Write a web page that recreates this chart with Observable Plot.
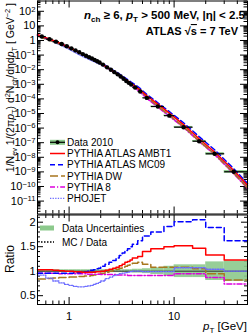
<!DOCTYPE html>
<html><head><meta charset="utf-8">
<script src="https://cdn.jsdelivr.net/npm/d3@7"></script>
<script src="https://cdn.jsdelivr.net/npm/@observablehq/plot@0.6"></script>
<style>
html,body{margin:0;padding:0;background:#fff;}
#chart svg{display:block;}
</style></head><body><div id="chart"></div>
<script>
// ---------------- data ----------------
const binEdges = [0.5,0.6,0.7,0.8,0.9,1.0,1.1,1.2,1.3,1.4,1.5,1.6,1.7,1.8,1.9,2.0,2.2,2.4,2.6,2.8,3.0,3.2,3.4,3.6,3.8,4.0,4.5,5.0,6.0,8.0,10,15,20,30,50];
const dataPt = [0.55,0.65,0.75,0.85,0.95,1.05,1.15,1.25,1.35,1.45,1.55,1.65,1.75,1.85,1.95,2.1,2.3,2.5,2.7,2.9,3.1,3.3,3.5,3.7,3.9,4.25,4.75,5.5,7,9,12.3,17.3,24.3,37];
const dataValues = [1.86,1.23,0.83,0.575,0.41,0.29,0.21,0.155,0.117,0.091,0.072,0.058,0.047,0.038,0.031,0.0224,0.0145,0.0098,0.0068,0.0048,0.0034,0.0024,0.0017,0.00126,0.00095,6.0e-4,3.2e-4,1.17e-4,3.0e-5,7.1e-6,1.15e-6,1.26e-7,1.74e-8,1.02e-9];
const dataRelUnc = [0.03,0.03,0.03,0.03,0.03,0.03,0.03,0.03,0.03,0.03,0.03,0.03,0.03,0.03,0.03,0.03,0.03,0.03,0.03,0.03,0.03,0.03,0.03,0.03,0.03,0.04,0.04,0.05,0.07,0.10,0.13,0.13,0.19,0.21];
const dataEdgeLow = 2.5;     // spectrum level at pT = 0.5 GeV
const dataEdgeHigh = 1.0e-10; // spectrum level at pT = 50 GeV

const ratioAMBT1 = [1.03,1.03,1.02,1.01,1.00, 1.00,0.99,0.99,0.98,0.98, 0.98,0.98,0.98,0.99,0.99, 1.00,1.02,1.04,1.06,1.08, 1.11,1.14,1.18,1.20,1.23, 1.27,1.30,1.40,1.46,1.50, 1.52,1.47,1.33,1.23];
const ratioMC09  = [0.96,0.96,0.96,0.96,0.96, 0.96,0.97,0.97,0.98,0.99, 1.00,1.02,1.03,1.05,1.06, 1.10,1.14,1.18,1.22,1.27, 1.32,1.37,1.42,1.46,1.50, 1.55,1.62,1.72,1.80,1.91, 2.01,2.05,1.89,1.62];
const ratioDW    = [0.84,0.85,0.86,0.87,0.87, 0.88,0.88,0.89,0.89,0.90, 0.90,0.91,0.92,0.93,0.94, 0.96,0.98,1.00,1.02,1.04, 1.06,1.08,1.10,1.12,1.14, 1.16,1.18,1.14,1.08,1.08, 1.08,1.05,0.95,0.82];
const ratioP8    = [0.96,0.96,0.96,0.95,0.95, 0.95,0.95,0.95,0.95,0.95, 0.94,0.94,0.94,0.94,0.94, 0.93,0.93,0.93,0.93,0.92, 0.92,0.92,0.92,0.91,0.91, 0.91,0.91,0.91,0.91,0.91, 0.95,0.95,0.87,0.74];
const ratioPHOJET= [0.92,0.86,0.80,0.76,0.73, 0.71,0.69,0.68,0.68,0.69, 0.70,0.71,0.73,0.75,0.77, 0.80,0.85,0.88,0.91,0.93, 0.95,0.96,0.97,0.98,0.99, 1.00,1.00,0.99,0.99,0.99, 1.07,1.07,1.04,1.00];

const seriesNames = ["PYTHIA ATLAS AMBT1","PYTHIA ATLAS MC09","PYTHIA DW","PYTHIA 8","PHOJET"];
const xTickValues = [1, 10];
const xMinorValues = [0.6,0.7,0.8,0.9,2,3,4,5,6,7,8,9,20,30,40];
const yTopExponents = [-11,-10,-9,-8,-7,-6,-5,-4,-3,-2,-1,0,1,2];
const yRatioTicks = [0.5, 1, 1.5, 2];
const yRatioMinor = [0.4,0.6,0.7,0.8,0.9,1.1,1.2,1.3,1.4,1.6,1.7,1.8,1.9,2.1];

// ---------------- styles ----------------
const FONT = "'Liberation Sans', Arial, Helvetica, sans-serif";
const GREEN = "#8cc98c";
const W = 249, mL = 37, mR = 2, innerW = W - mL - mR;
const X_DOMAIN = [0.5, 50];
const styles = [
  {r: ratioAMBT1, stroke: "#ff0000", dash: null, width: 1.5},
  {r: ratioMC09, stroke: "#0000ff", dash: "5,3", width: 1.5},
  {r: ratioDW, stroke: "#a8761e", dash: "8,3", width: 1.5},
  {r: ratioP8, stroke: "#dd00dd", dash: "5,2,1.2,2", width: 1.5},
  {r: ratioPHOJET, stroke: "#6c6cff", dash: "1.3,1.3", width: 1.3}
];

const bins = dataValues.map((v, i) => ({
  x1: binEdges[i], x2: binEdges[i + 1], xm: dataPt[i], v,
  lo: v * (1 - dataRelUnc[i]), hi: v * (1 + dataRelUnc[i]),
  bLo: 1 - dataRelUnc[i], bHi: 1 + dataRelUnc[i]
}));
function topLine(s) {
  return [{x: binEdges[0], y: dataEdgeLow * s.r[0]},
    ...bins.map((b, i) => ({x: b.xm, y: b.v * s.r[i]})),
    {x: binEdges[binEdges.length - 1], y: dataEdgeHigh * s.r[s.r.length - 1]}];
}
function stepLine(s) {
  return bins.flatMap((b, i) => [{x: b.x1, y: s.r[i]}, {x: b.x2, y: s.r[i]}]);
}

// tick helpers
function xTicks(vals, len, innerH) {
  return [
    Plot.tickX(vals, {x: d => d, stroke: "black", strokeWidth: 1, insetTop: innerH - len}),
    Plot.tickX(vals, {x: d => d, stroke: "black", strokeWidth: 1, insetBottom: innerH - len})
  ];
}
function yTicks(vals, len) {
  return [
    Plot.tickY(vals, {y: d => d, stroke: "black", strokeWidth: 1, insetRight: innerW - len}),
    Plot.tickY(vals, {y: d => d, stroke: "black", strokeWidth: 1, insetLeft: innerW - len})
  ];
}

// ---------------- top panel ----------------
const topH = 214, topMT = 0.5, topMB = 0.5, topInnerH = topH - topMT - topMB;
const Y_TOP = [1.306e-12, 507];
const yTopMajor = yTopExponents.map(e => Math.pow(10, e));
const yTopMinor = [];
for (let e = -12; e <= 2; e++) for (let m = 2; m <= 9; m++) {
  const v = m * Math.pow(10, e);
  if (v > Y_TOP[0] && v < Y_TOP[1]) yTopMinor.push(v);
}

const topPlot = Plot.plot({
  width: W, height: topH, marginLeft: mL, marginRight: mR, marginTop: topMT, marginBottom: topMB,
  style: {fontFamily: FONT, fontSize: "11px", background: "white", color: "black", overflow: "visible"},
  x: {type: "log", domain: X_DOMAIN, axis: null},
  y: {type: "log", domain: Y_TOP},
  marks: [
    ...xTicks(xTickValues, 7, topInnerH),
    ...xTicks(xMinorValues, 3.5, topInnerH),
    ...yTicks(yTopMajor, 7),
    ...yTicks(yTopMinor, 3.5),
    Plot.rect(bins, {x1: "x1", x2: "x2", y1: "lo", y2: "hi", fill: GREEN}),
    ...styles.slice().reverse().map(s => Plot.line(topLine(s), {x: "x", y: "y", stroke: s.stroke, strokeWidth: s.width, strokeDasharray: s.dash})),
    Plot.link(bins, {x1: "x1", x2: "x2", y1: "v", y2: "v", stroke: "black", strokeWidth: 1.2}),
    Plot.dot(bins, {x: "xm", y: "v", r: 2.2, fill: "black", stroke: null}),
    Plot.axisY(yTopMajor, {tickSize: 0, tickPadding: 2, label: null,
      tickFormat: d => { const e = Math.round(Math.log10(d)); return e === 0 ? "1" : e === 1 ? "10" : "10^" + e; }}),
    Plot.frame({stroke: "black", strokeWidth: 1})
  ]
});

// ---------------- ratio panel ----------------
const botH = 121, botMT = 0.5, botMB = 31, botInnerH = botH - botMT - botMB;
const Y_BOT = [0.32, 2.147];
const botPlot = Plot.plot({
  width: W, height: botH, marginLeft: mL, marginRight: mR, marginTop: botMT, marginBottom: botMB,
  style: {fontFamily: FONT, fontSize: "11px", background: "white", color: "black", overflow: "visible"},
  x: {type: "log", domain: X_DOMAIN},
  y: {domain: Y_BOT},
  marks: [
    ...xTicks(xTickValues, 7, botInnerH),
    ...xTicks(xMinorValues, 3.5, botInnerH),
    ...yTicks(yRatioTicks, 6),
    ...yTicks(yRatioMinor, 3),
    Plot.rect(bins, {x1: "x1", x2: "x2", y1: "bLo", y2: "bHi", fill: GREEN, fillOpacity: 0.9}),
    Plot.ruleY([1], {stroke: "#333", strokeWidth: 1}),
    ...[2, 3, 4, 1, 0].map(i => Plot.line(stepLine(styles[i]), {x: "x", y: "y", stroke: styles[i].stroke, strokeWidth: styles[i].width, strokeDasharray: styles[i].dash})),
    Plot.axisY(yRatioTicks, {tickSize: 0, tickPadding: 2, label: null, tickFormat: d => String(d)}),
    Plot.axisX(xTickValues, {tickSize: 0, tickPadding: 8, label: null, tickFormat: d => String(d)}),
    Plot.frame({stroke: "black", strokeWidth: 1})
  ]
});

// ---------------- rich text helpers ----------------
function rich(sel, parts, fs) {
  let cur = 0;
  for (const p of parts) {
    const target = p.s === "sub" ? fs * 0.3 : p.s === "sup" ? -fs * 0.4 : 0;
    const ts = sel.append("tspan").attr("dy", target - cur).text(p.t);
    cur = target;
    if (p.s) ts.attr("font-size", fs * 0.7);
    if (p.i) ts.attr("font-style", "italic");
    if (p.o) ts.attr("text-decoration", "overline");
  }
}

// superscripts in the log tick labels
d3.select(topPlot).selectAll('g[aria-label="y-axis tick label"] text').each(function () {
  const t = this.textContent;
  if (t.includes("^")) {
    const [b, e] = t.split("^");
    const sel = d3.select(this);
    sel.text("");
    sel.append("tspan").text(b);
    sel.append("tspan").attr("dy", "-0.42em").attr("font-size", "70%").text(e.replace("-", "\u2212"));
  }
});

const ts = d3.select(topPlot);
// header
const h1 = ts.append("text").attr("x", 245).attr("y", 19).attr("text-anchor", "end")
  .attr("font-family", FONT).attr("font-size", 11.5).attr("font-weight", "bold");
rich(h1, [{t: "n", i: 1}, {t: "ch", s: "sub"}, {t: " \u2265 6, "}, {t: "p", i: 1}, {t: "T", s: "sub"}, {t: " > 500 MeV, |\u03B7| < 2.5"}], 11.5);
const h2 = ts.append("text").attr("x", 238).attr("y", 35).attr("text-anchor", "end")
  .attr("font-family", FONT).attr("font-size", 11).attr("font-weight", "bold");
rich(h2, [{t: "ATLAS \u221A"}, {t: "s", o: 1}, {t: " = 7 TeV"}], 11);

// y title
const yt = ts.append("text").attr("transform", "translate(14,3) rotate(-90)").attr("text-anchor", "end")
  .attr("font-family", FONT).attr("font-size", 10.5);
rich(yt, [{t: "1/N"}, {t: "ev", s: "sub"}, {t: " 1/(2\u03C0"}, {t: "p", i: 1}, {t: "T", s: "sub"}, {t: ") d"}, {t: "2", s: "sup"},
  {t: "N"}, {t: "ch", s: "sub"}, {t: "/d\u03B7d"}, {t: "p", i: 1}, {t: "T", s: "sub"}, {t: " [ GeV"}, {t: "\u22122", s: "sup"}, {t: " ]"}], 10.5);

// top legend
const legY0 = 142.3, legDY = 11.2;
const lg = ts.append("g").attr("font-family", FONT).attr("font-size", 10).attr("text-anchor", "start");
const legendLabels = ["Data 2010", ...seriesNames];
legendLabels.forEach((name, k) => {
  const y = legY0 + k * legDY;
  if (k === 0) {
    lg.append("rect").attr("x", 50).attr("y", y - 2.5).attr("width", 15).attr("height", 5).attr("fill", GREEN);
    lg.append("line").attr("x1", 50).attr("x2", 65).attr("y1", y).attr("y2", y).attr("stroke", "black").attr("stroke-width", 1.2);
    lg.append("circle").attr("cx", 57.5).attr("cy", y).attr("r", 2).attr("fill", "black");
  } else {
    const s = styles[k - 1];
    lg.append("line").attr("x1", 50).attr("x2", 65).attr("y1", y).attr("y2", y).attr("stroke", s.stroke)
      .attr("stroke-width", s.width).attr("stroke-dasharray", s.dash);
  }
  lg.append("text").attr("x", 67).attr("y", y + 3.6).text(name);
});

const bs = d3.select(botPlot);
const bl = bs.append("g").attr("font-family", FONT).attr("font-size", 10).attr("text-anchor", "start");
bl.append("rect").attr("x", 40).attr("y", 225.5 - 214).attr("width", 14).attr("height", 5).attr("fill", GREEN);
bl.append("text").attr("x", 62).attr("y", 232 - 214).text("Data Uncertainties");
bl.append("line").attr("x1", 41).attr("x2", 54).attr("y1", 242 - 214).attr("y2", 242 - 214).attr("stroke", "black")
  .attr("stroke-width", 1.3).attr("stroke-dasharray", "1.5,1.5");
bl.append("text").attr("x", 62).attr("y", 245.5 - 214).text("MC / Data");

bs.append("text").attr("transform", `translate(13.5,${259 - 214}) rotate(-90)`).attr("text-anchor", "middle")
  .attr("font-family", FONT).attr("font-size", 12).text("Ratio");
const xt = bs.append("text").attr("x", 247).attr("y", 330 - 214).attr("text-anchor", "end")
  .attr("font-family", FONT).attr("font-size", 11.5);
rich(xt, [{t: "p", i: 1}, {t: "T", s: "sub"}, {t: " [GeV]"}], 11.5);

document.getElementById("chart").append(topPlot, botPlot);
</script>
</body></html>
